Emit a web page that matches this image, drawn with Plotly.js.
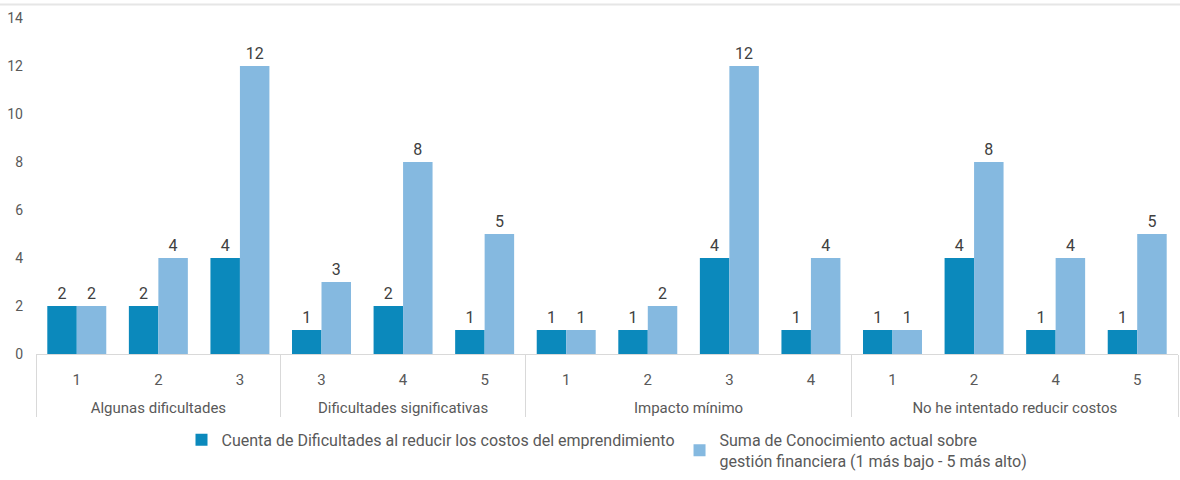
<!DOCTYPE html>
<html>
<head>
<meta charset="utf-8">
<script src="https://cdn.plot.ly/plotly-3.0.1.min.js"></script>
<style>html,body{margin:0;padding:0;background:#fff;}#chart{width:1180px;height:480px;}</style>
</head>
<body>
<div id="chart"></div>
<script>
const groups = ["Algunas dificultades","Algunas dificultades","Algunas dificultades",
  "Dificultades significativas","Dificultades significativas","Dificultades significativas",
  "Impacto mínimo","Impacto mínimo","Impacto mínimo","Impacto mínimo",
  "No he intentado reducir costos","No he intentado reducir costos","No he intentado reducir costos","No he intentado reducir costos"];
const levels = ["1","2","3","3","4","5","1","2","3","4","1","2","4","5"];
const cuenta = [2,2,4,1,2,1,1,1,4,1,1,4,1,1];
const suma = [2,4,12,3,8,5,1,2,12,4,1,8,4,5];
const seriesNames = ["Cuenta de Dificultades al reducir los costos del emprendimiento",
  "Suma de Conocimiento actual sobre<br>gestión financiera (1 más bajo - 5 más alto)"];

// sub-category labels get a blank second line to widen the gap to the group row
const levelLabels = levels.map(l => l + "<br>\u00a0");
const xCats = [groups, levelLabels];

const font = "Roboto, 'Open Sans', sans-serif";
const traces = [
  {type:"bar", name:seriesNames[0], x:xCats, y:cuenta, marker:{color:"#0B89BC"},
   text:cuenta.map(String), textposition:"outside", cliponaxis:false,
   textfont:{size:16, color:"#404040", family:font}},
  {type:"bar", name:seriesNames[1], x:xCats, y:suma, marker:{color:"#85B9E0"},
   text:suma.map(String), textposition:"outside", cliponaxis:false,
   textfont:{size:16, color:"#404040", family:font}}
];
const layout = {
  width:1180, height:480,
  margin:{l:36, r:2, t:18, b:122},
  paper_bgcolor:"#fff", plot_bgcolor:"#fff",
  font:{family:font, color:"#595959", size:14},
  barmode:"group", bargap:0.277, bargroupgap:0,
  showlegend:true,
  legend:{orientation:"h", x:0.5, xanchor:"center", y:-0.205, yanchor:"top",
    font:{size:16, color:"#595959", family:font}, itemwidth:30, traceorder:"normal"},
  xaxis:{type:"multicategory", showline:true, linecolor:"#D9D9D9", linewidth:1,
    showdividers:true, dividercolor:"#D9D9D9", dividerwidth:1,
    ticklabelstandoff:12, ticks:"",
    tickfont:{size:15, color:"#595959"}, showgrid:false},
  yaxis:{range:[0,14], dtick:2, showgrid:false, zeroline:false, showline:false,
    ticklabelstandoff:12,
    tickfont:{size:14, color:"#595959"}, ticks:""},
  shapes:[{type:"line", xref:"paper", yref:"paper", x0:-0.05, x1:1.01, y0:1.04, y1:1.04,
    line:{color:"#E6E6E6", width:2}}]
};
Plotly.newPlot("chart", traces, layout, {displayModeBar:false, staticPlot:true});
</script>
</body>
</html>
